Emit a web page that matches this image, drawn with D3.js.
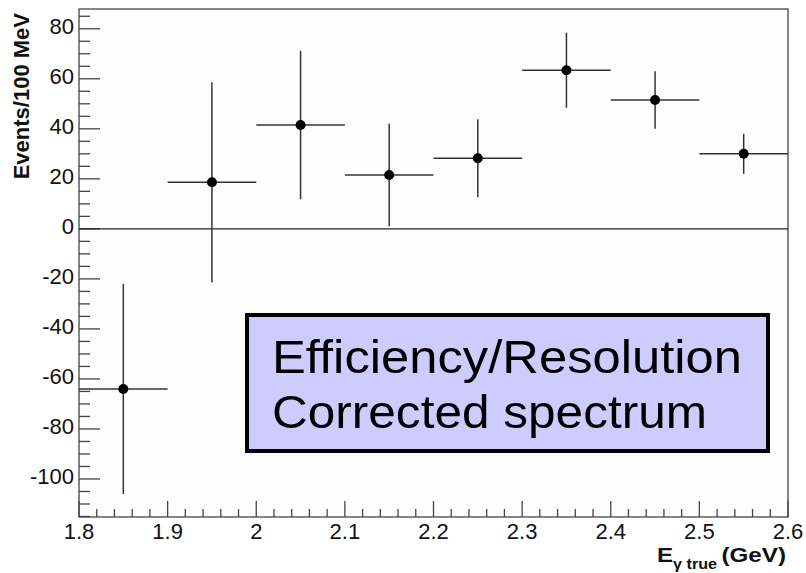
<!DOCTYPE html>
<html>
<head>
<meta charset="utf-8">
<script src="https://cdn.jsdelivr.net/npm/d3@7"></script>
<style>
  html, body { margin: 0; padding: 0; background: #ffffff; }
  svg { display: block; }
</style>
</head>
<body>
<svg id="chart" width="806" height="573"></svg>
<script>
// Bin centres (GeV), corrected event counts and their symmetric errors
const binCenters = [1.85, 1.95, 2.05, 2.15, 2.25, 2.35, 2.45, 2.55];
const events     = [-64, 18.6, 41.5, 21.5, 28.2, 63.4, 51.5, 30];
const errors     = [42, 40, 29.7, 20.5, 15.6, 15, 11.5, 8];
const binHalfWidth = 0.05;

const xTicks = [1.8, 1.9, 2.0, 2.1, 2.2, 2.3, 2.4, 2.5, 2.6];
const yTicks = [-100, -80, -60, -40, -20, 0, 20, 40, 60, 80];

const sans = "'Liberation Sans', Arial, sans-serif";
const svg = d3.select("#chart").style("font-family", sans);
const frame = { left: 79, right: 788, top: 9, bottom: 517 };

const x = d3.scaleLinear().domain([1.8, 2.6]).range([frame.left, frame.right]);
const y = d3.scaleLinear().domain([-115.2, 87.9]).range([frame.bottom, frame.top]);

// Frame
svg.append("rect")
  .attr("x", frame.left).attr("y", frame.top)
  .attr("width", frame.right - frame.left).attr("height", frame.bottom - frame.top)
  .attr("fill", "#fdfdfd").attr("stroke", "#444").attr("stroke-width", 1.3);

// Minor and major ticks
const g = svg.append("g").attr("stroke", "#444").attr("stroke-width", 1.3);
const xMinor = d3.range(0, 41).map(i => 1.8 + i * 0.02);
g.selectAll(".xt").data(xMinor).join("line")
  .attr("x1", d => x(d)).attr("x2", d => x(d))
  .attr("y1", frame.bottom)
  .attr("y2", (d, i) => frame.bottom - (i % 5 === 0 ? 16 : 8));
const yMinor = d3.range(-115, 90, 5);
g.selectAll(".yt").data(yMinor).join("line")
  .attr("y1", d => y(d)).attr("y2", d => y(d))
  .attr("x1", frame.left)
  .attr("x2", d => frame.left + (d % 20 === 0 ? 21 : 11));

// Tick labels
svg.selectAll(".xl").data(xTicks).join("text")
  .attr("x", d => x(d)).attr("y", 539)
  .attr("text-anchor", "middle").attr("font-size", 22).attr("fill", "#111")
  .text(d => String(+d.toFixed(1)));
svg.selectAll(".yl").data(yTicks).join("text")
  .attr("x", 74).attr("y", d => y(d) + 5)
  .attr("text-anchor", "end").attr("font-size", 22).attr("fill", "#111")
  .text(d => d);

// Axis titles
svg.append("text")
  .attr("transform", "translate(29,13) rotate(-90)")
  .attr("text-anchor", "end").attr("font-size", 22).attr("font-weight", "bold")
  .attr("fill", "#111")
  .text("Events/100 MeV");
const xt = svg.append("text")
  .attr("x", 657).attr("y", 562)
  .attr("font-weight", "bold").attr("font-size", 21).attr("fill", "#111")
  .attr("textLength", 129).attr("lengthAdjust", "spacingAndGlyphs");
xt.append("tspan").text("E");
xt.append("tspan").attr("font-size", 14).attr("dy", 7).text("γ true ");
xt.append("tspan").attr("dy", -7).text("(GeV)");

// Zero line
svg.append("line")
  .attr("x1", frame.left).attr("x2", frame.right)
  .attr("y1", y(0)).attr("y2", y(0))
  .attr("stroke", "#222").attr("stroke-width", 1.3);

// Data points with bin-width and error bars
const pts = svg.append("g");
const data = binCenters.map((c, i) => ({ c, v: events[i], e: errors[i] }));
pts.selectAll(".hbar").data(data).join("line")
  .attr("x1", d => x(d.c - binHalfWidth)).attr("x2", d => x(d.c + binHalfWidth))
  .attr("y1", d => y(d.v)).attr("y2", d => y(d.v))
  .attr("stroke", "#333").attr("stroke-width", 1.5);
pts.selectAll(".vbar").data(data).join("line")
  .attr("x1", d => x(d.c)).attr("x2", d => x(d.c))
  .attr("y1", d => y(d.v - d.e)).attr("y2", d => y(d.v + d.e))
  .attr("stroke", "#333").attr("stroke-width", 1.5);
pts.selectAll("circle").data(data).join("circle")
  .attr("cx", d => x(d.c)).attr("cy", d => y(d.v))
  .attr("r", 5).attr("fill", "#000");

// Annotation box
svg.append("rect")
  .attr("x", 247).attr("y", 315).attr("width", 521).attr("height", 136)
  .attr("fill", "#ccccff").attr("stroke", "#000").attr("stroke-width", 4);
svg.append("text")
  .attr("x", 272).attr("y", 373).attr("font-size", 47).attr("fill", "#000")
  .attr("textLength", 470).attr("lengthAdjust", "spacingAndGlyphs")
  .text("Efficiency/Resolution");
svg.append("text")
  .attr("x", 272).attr("y", 428).attr("font-size", 47).attr("fill", "#000")
  .attr("textLength", 435).attr("lengthAdjust", "spacingAndGlyphs")
  .text("Corrected spectrum");
</script>
</body>
</html>
